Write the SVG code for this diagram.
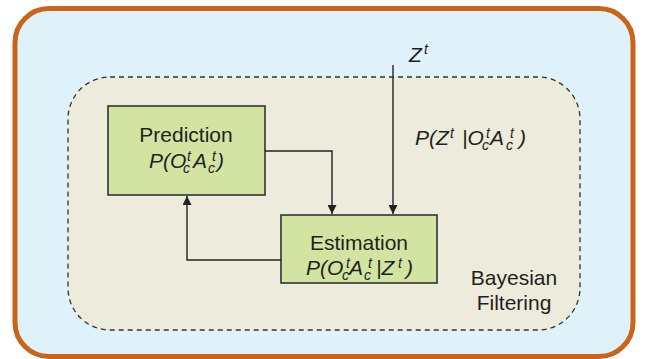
<svg xmlns="http://www.w3.org/2000/svg" width="651" height="359" viewBox="0 0 651 359">
<style>
text{font-family:"Liberation Sans",Arial,sans-serif;font-size:21px;fill:#231f20}
.i{font-style:italic}
.s{font-size:14px}
.box{fill:#d3e4a2;stroke:#333;stroke-width:1.6}
.ln{fill:none;stroke:#222;stroke-width:1.4}
</style>
<defs>
<marker id="ah" viewBox="0 0 10 10" refX="10" refY="5" markerWidth="9" markerHeight="9" markerUnits="userSpaceOnUse" orient="auto"><path d="M0,0L10,5L0,10z" fill="#222"/></marker>
</defs>
<rect x="15" y="8.5" width="618" height="348" rx="34" fill="#dff2fa" stroke="#c8651b" stroke-width="5"/>
<g id="bayes">
<rect x="68" y="77" width="512" height="253" rx="42" fill="#ecebdc" stroke="#333" stroke-width="1.3" stroke-dasharray="5,4"/>
<text x="514" y="285" text-anchor="middle">Bayesian</text>
<text x="514" y="310" text-anchor="middle">Filtering</text>
</g>
<g id="prediction">
<rect class="box" x="108" y="106" width="157" height="89"/>
<text x="186" y="142" text-anchor="middle">Prediction</text>
<text class="i" y="168"><tspan x="149">P(O</tspan><tspan class="s" x="183" y="173">c</tspan><tspan class="s" x="187" y="161">t</tspan><tspan x="193" y="168">A</tspan><tspan class="s" x="208" y="173">c</tspan><tspan class="s" x="212" y="161">t</tspan><tspan x="217" y="168">)</tspan></text>
</g>
<g id="estimation">
<rect class="box" x="281" y="215" width="156" height="68"/>
<text x="359" y="250" text-anchor="middle">Estimation</text>
<text class="i" y="275"><tspan x="306">P(O</tspan><tspan class="s" x="342" y="280">c</tspan><tspan class="s" x="346" y="268">t</tspan><tspan x="349" y="275">A</tspan><tspan class="s" x="364" y="280">c</tspan><tspan class="s" x="368" y="268">t</tspan><tspan x="376" y="275">|Z</tspan><tspan class="s" x="398" y="268">t</tspan><tspan x="406" y="275">)</tspan></text>
</g>
<g id="zt">
<text class="i" y="62"><tspan x="409">Z</tspan><tspan class="s" x="424" y="54">t</tspan></text>
</g>
<g id="likelihood">
<text class="i" y="145"><tspan x="415">P(Z</tspan><tspan class="s" x="450" y="138">t</tspan><tspan x="462" y="145">|O</tspan><tspan class="s" x="482" y="150">c</tspan><tspan class="s" x="486" y="138">t</tspan><tspan x="490" y="145">A</tspan><tspan class="s" x="506" y="150">c</tspan><tspan class="s" x="510" y="138">t</tspan><tspan x="519" y="145">)</tspan></text>
</g>
<g id="connectors">
<path class="ln" d="M265,151H332V214" marker-end="url(#ah)"/>
<path class="ln" d="M393,65V214" marker-end="url(#ah)"/>
<path class="ln" d="M281,260H187V196" marker-end="url(#ah)"/>
</g>
</svg>
